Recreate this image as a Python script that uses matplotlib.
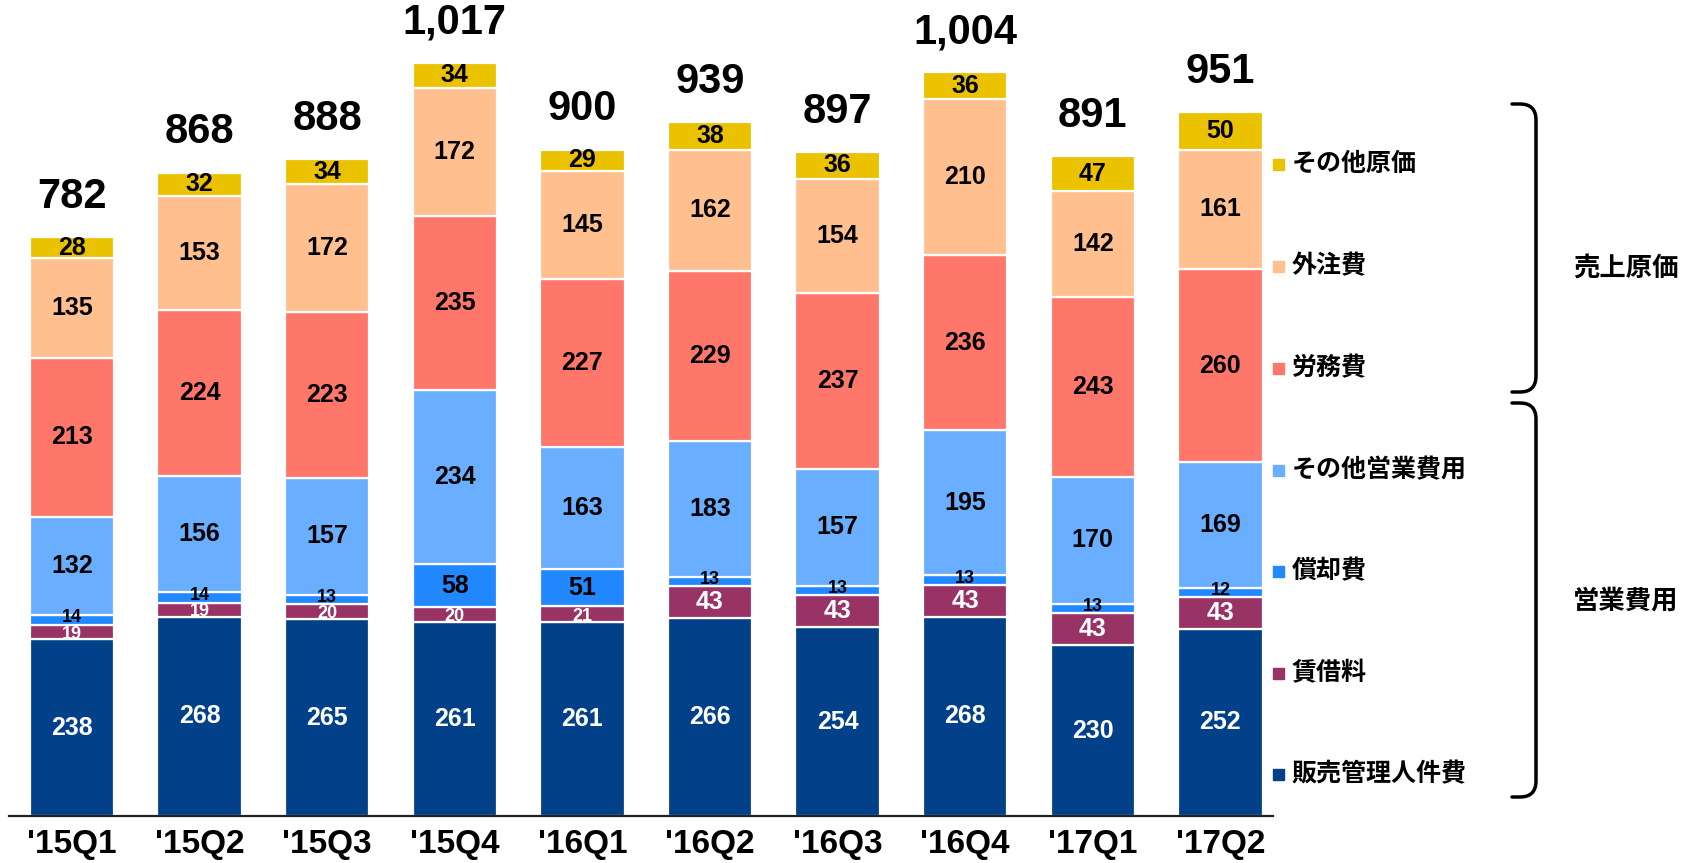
import matplotlib
matplotlib.use("Agg")
import matplotlib.pyplot as plt
from matplotlib.path import Path
from matplotlib.patches import PathPatch

# data (億円)
quarters = ["'15Q1", "'15Q2", "'15Q3", "'15Q4", "'16Q1", "'16Q2", "'16Q3", "'16Q4", "'17Q1", "'17Q2"]
totals = [782, 868, 888, 1017, 900, 939, 897, 1004, 891, 951]

series_names = ["販売管理人件費", "賃借料", "償却費", "その他営業費用", "労務費", "外注費", "その他原価"]
sales_staff = [238, 268, 265, 261, 261, 266, 254, 268, 230, 252]
rent = [19, 19, 20, 20, 21, 43, 43, 43, 43, 43]
depreciation = [14, 14, 13, 58, 51, 13, 13, 13, 13, 12]
other_opex = [132, 156, 157, 234, 163, 183, 157, 195, 170, 169]
labor = [213, 224, 223, 235, 227, 229, 237, 236, 243, 260]
outsourcing = [135, 153, 172, 172, 145, 162, 154, 210, 142, 161]
other_cogs = [28, 32, 34, 34, 29, 38, 36, 36, 47, 50]

series = [sales_staff, rent, depreciation, other_opex, labor, outsourcing, other_cogs]
colors = ["#02418A", "#993366", "#2288FF", "#6AAEFF", "#FF776B", "#FFBF8F", "#EBC200"]
text_colors = ["white", "white", "black", "black", "black", "black", "black"]
# small labels are nudged a little (points) so the thin segments stay readable
nudge = [0, -1.5, 1.5, 0, 0, 0, 0]

NUM_FONT = ["Liberation Sans Narrow", "Liberation Sans", "DejaVu Sans"]
JP_FONT = ["Noto Sans CJK JP", "DejaVu Sans"]

W, H = 1684, 863
fig = plt.figure(figsize=(W / 100, H / 100), dpi=100)

# axes placed in pixel terms: axis line from x=9 to 1273, baseline at y=816
ax = fig.add_axes([9 / W, (H - 816) / H, (1273 - 9) / W, 816 / H])
spacing = 127.6
x0 = 72
ax.set_xlim((9 - x0) / spacing, (1273 - x0) / spacing)
ax.set_ylim(0, 816 / 0.743)

xs = list(range(len(quarters)))
bottoms = [0] * len(quarters)
for vals, col, tcol, dy in zip(series, colors, text_colors, nudge):
    ax.bar(xs, vals, width=0.66, bottom=bottoms, color=col,
           edgecolor="white", linewidth=1.6)
    for i, v in enumerate(vals):
        small = v < 25
        size = 13 if small else 18
        ax.annotate(str(v), (xs[i], bottoms[i] + v / 2),
                    xytext=(0, dy if small else 0), textcoords="offset points",
                    ha="center", va="center", color=tcol, fontsize=size,
                    family=NUM_FONT, fontweight="bold")
    bottoms = [b + v for b, v in zip(bottoms, vals)]

for i, t in enumerate(totals):
    ax.annotate(f"{t:,}", (xs[i], bottoms[i]), xytext=(0, 21), textcoords="offset points",
                ha="center", va="baseline", fontsize=30, family=NUM_FONT, fontweight="bold")

for s in ["top", "right", "left"]:
    ax.spines[s].set_visible(False)
ax.spines["bottom"].set_linewidth(1.6)
ax.spines["bottom"].set_color("#222222")
ax.set_yticks([])
ax.set_xticks(xs)
ax.set_xticklabels(quarters, fontsize=24, family=NUM_FONT, fontweight="bold")
ax.tick_params(axis="x", length=0, pad=9)


def fx(px):
    return px / W


def fy(py):
    return 1 - py / H


# legend, top to bottom
legend_y = [164, 266, 368, 470, 571, 673, 774]
for name, col, py in zip(series_names[::-1], colors[::-1], legend_y):
    fig.patches.append(plt.Rectangle((fx(1273), fy(py + 6)), 11 / W, 11 / H,
                                     transform=fig.transFigure, color=col))
    fig.text(fx(1292), fy(py), name, fontsize=18, fontweight="bold",
             family=JP_FONT, va="center", ha="left")


def brace(top, bottom, xl=1512, xr=1536, r=16):
    verts = [(xl, top), (xr - r, top), (xr, top), (xr, top + r),
             (xr, bottom - r), (xr, bottom), (xr - r, bottom), (xl, bottom)]
    codes = [Path.MOVETO, Path.LINETO, Path.CURVE3, Path.CURVE3,
             Path.LINETO, Path.CURVE3, Path.CURVE3, Path.LINETO]
    verts = [(fx(a), fy(b)) for a, b in verts]
    fig.patches.append(PathPatch(Path(verts, codes), transform=fig.transFigure,
                                 fill=False, lw=2.5, color="black", capstyle="round"))


brace(104, 392)
brace(403, 797)
fig.text(fx(1626), fy(268), "売上原価", fontsize=19, fontweight="bold",
         family=JP_FONT, ha="center", va="center")
fig.text(fx(1626), fy(601), "営業費用", fontsize=19, fontweight="bold",
         family=JP_FONT, ha="center", va="center")

fig.savefig("out.png", dpi=100)
